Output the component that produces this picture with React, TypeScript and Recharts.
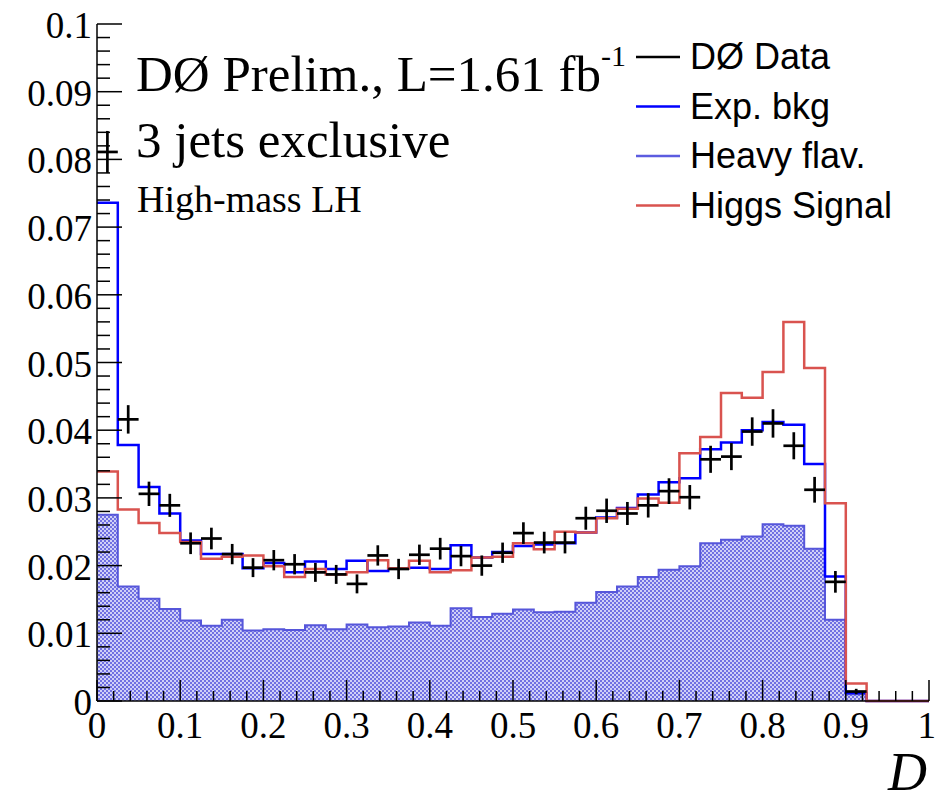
import React from 'react';
import { ComposedChart, Area, Line, Scatter, ErrorBar, XAxis, YAxis, Legend } from 'recharts';

// 40 bins of width 0.025 on D = [0, 1]
const BIN_EDGES = [
  0, 0.025, 0.05, 0.075, 0.1, 0.125, 0.15, 0.175, 0.2, 0.225,
  0.25, 0.275, 0.3, 0.325, 0.35, 0.375, 0.4, 0.425, 0.45, 0.475,
  0.5, 0.525, 0.55, 0.575, 0.6, 0.625, 0.65, 0.675, 0.7, 0.725,
  0.75, 0.775, 0.8, 0.825, 0.85, 0.875, 0.9, 0.925, 0.95, 0.975, 1,
];

const HEAVY_FLAV = [
  0.0275, 0.0169, 0.0151, 0.0136, 0.0119, 0.0111, 0.0120, 0.0104, 0.0106, 0.0105,
  0.0112, 0.0106, 0.0113, 0.0109, 0.0110, 0.0116, 0.0111, 0.0137, 0.0124, 0.0129,
  0.0135, 0.0131, 0.0132, 0.0145, 0.0161, 0.0169, 0.0183, 0.0194, 0.0199, 0.0233,
  0.0238, 0.0243, 0.0261, 0.0259, 0.0225, 0.0120, 0.0010, 0, 0, 0,
];

const EXP_BKG = [
  0.0736, 0.0378, 0.0316, 0.0277, 0.0237, 0.0217, 0.0217, 0.0196, 0.0204, 0.0190,
  0.0206, 0.0195, 0.0207, 0.0192, 0.0196, 0.0197, 0.0195, 0.0230, 0.0212, 0.0220,
  0.0229, 0.0231, 0.0233, 0.0249, 0.0271, 0.0285, 0.0305, 0.0323, 0.0329, 0.0372,
  0.0382, 0.0400, 0.0412, 0.0408, 0.0350, 0.0184, 0.0012, 0, 0, 0,
];

const HIGGS_SIGNAL = [
  0.0339, 0.0283, 0.0263, 0.0248, 0.0235, 0.0210, 0.0213, 0.0215, 0.0199, 0.0183,
  0.0195, 0.0187, 0.0190, 0.0208, 0.0196, 0.0207, 0.0190, 0.0193, 0.0212, 0.0213,
  0.0233, 0.0224, 0.0250, 0.0249, 0.0270, 0.0284, 0.0299, 0.0293, 0.0366, 0.0390,
  0.0455, 0.0448, 0.0486, 0.0560, 0.0492, 0.0292, 0.0026, 0, 0, 0,
];

const DATA_VALUES = [
  0.0811, 0.0416, 0.0306, 0.0289, 0.0233, 0.0240, 0.0217, 0.0197, 0.0208, 0.0202,
  0.0190, 0.0187, 0.0173, 0.0215, 0.0195, 0.0216, 0.0225, 0.0214, 0.0200, 0.0219,
  0.0248, 0.0234, 0.0234, 0.0270, 0.0281, 0.0277, 0.0289, 0.0310, 0.0301, 0.0357,
  0.0361, 0.0398, 0.0410, 0.0377, 0.0312, 0.0176, 0.0014,
];

const DATA_ERRORS = [
  0.0031, 0.0021, 0.0018, 0.0017, 0.0016, 0.0016, 0.0015, 0.0014, 0.0015, 0.0015,
  0.0014, 0.0014, 0.0014, 0.0015, 0.0015, 0.0015, 0.0016, 0.0015, 0.0015, 0.0015,
  0.0016, 0.0016, 0.0016, 0.0017, 0.0018, 0.0017, 0.0018, 0.0019, 0.0018, 0.0020,
  0.0020, 0.0021, 0.0021, 0.0020, 0.0019, 0.0016, 0.0004,
];

const X_LABELS = [0, 0.1, 0.2, 0.3, 0.4, 0.5, 0.6, 0.7, 0.8, 0.9, 1];
const Y_LABELS = [0, 0.01, 0.02, 0.03, 0.04, 0.05, 0.06, 0.07, 0.08, 0.09, 0.1];

const LEGEND_ITEMS = [
  { label: 'DØ Data', color: '#000000' },
  { label: 'Exp. bkg', color: '#0000ff' },
  { label: 'Heavy flav.', color: '#5c5ce0' },
  { label: 'Higgs Signal', color: '#d9534f' },
];

const SERIF = '"Liberation Serif", "Times New Roman", serif';
const SANS = '"Liberation Sans", Arial, Helvetica, sans-serif';

// histogram rows on bin edges, last edge repeats the last bin for stepAfter
const histRows = BIN_EDGES.map((x, i) => {
  const k = Math.min(i, HEAVY_FLAV.length - 1);
  return { x, heavy: HEAVY_FLAV[k], bkg: EXP_BKG[k], sig: HIGGS_SIGNAL[k] };
});

const dataPoints = DATA_VALUES.map((y, i) => ({
  x: (BIN_EDGES[i] + BIN_EDGES[i + 1]) / 2,
  y,
  err: DATA_ERRORS[i],
  xerr: (BIN_EDGES[i + 1] - BIN_EDGES[i]) / 2,
}));

// 5 minor divisions per labelled step
const X_TICKS = Array.from({ length: 51 }, (_, i) => i / 50);
const Y_TICKS = Array.from({ length: 51 }, (_, i) => i / 500);

const onStep = (v: number, step: number) => Math.abs(v / step - Math.round(v / step)) < 1e-6;
const fmt = (v: number) => String(Number(v.toFixed(3)));

const BottomTick = (props: any) => {
  const { x, y, payload } = props;
  const major = onStep(payload.value, 0.1);
  const last = Math.abs(payload.value - 1) < 1e-6;
  return (
    <g>
      <line x1={x} x2={x} y1={y} y2={y - (major ? 21 : 10)} stroke="#000" strokeWidth={1.5} />
      {major && X_LABELS.some((l) => Math.abs(l - payload.value) < 1e-6) ? (
        <text
          x={last ? x + 7 : x}
          y={y + 37}
          textAnchor={last ? 'end' : 'middle'}
          fontFamily={SERIF}
          fontSize={37}
          fill="#000"
        >
          {fmt(payload.value)}
        </text>
      ) : null}
    </g>
  );
};

const TopTick = (props: any) => {
  const { x, y, payload } = props;
  const major = onStep(payload.value, 0.1);
  return <line x1={x} x2={x} y1={y} y2={y + (major ? 21 : 10)} stroke="#000" strokeWidth={1.5} />;
};

const LeftTick = (props: any) => {
  const { x, y, payload } = props;
  const major = onStep(payload.value, 0.01);
  return (
    <g>
      <line x1={x} x2={x + (major ? 25 : 13)} y1={y} y2={y} stroke="#000" strokeWidth={1.5} />
      {major && Y_LABELS.some((l) => Math.abs(l - payload.value) < 1e-6) ? (
        <text x={x - 5} y={y + 14} textAnchor="end" fontFamily={SERIF} fontSize={37} fill="#000">
          {fmt(payload.value)}
        </text>
      ) : null}
    </g>
  );
};

const RightTick = (props: any) => {
  const { x, y, payload } = props;
  const major = onStep(payload.value, 0.01);
  return <line x1={x} x2={x - (major ? 25 : 13)} y1={y} y2={y} stroke="#000" strokeWidth={1.5} />;
};

const renderLegend = () => (
  <svg width={310} height={200} style={{ overflow: 'visible' }}>
    {LEGEND_ITEMS.map((item, i) => {
      const cy = 27 + i * 49.5;
      return (
        <g key={item.label}>
          <line x1={16} x2={60} y1={cy} y2={cy} stroke={item.color} strokeWidth={2.5} />
          <text x={70} y={cy + 12} fontFamily={SANS} fontSize={36} fill="#000">
            {item.label}
          </text>
        </g>
      );
    })}
  </svg>
);

const AxisTitle = (props: any) => {
  const { viewBox } = props;
  return (
    <text
      x={viewBox.x + viewBox.width - 2}
      y={viewBox.y + 89}
      textAnchor="end"
      fontFamily={SERIF}
      fontStyle="italic"
      fontSize={54}
      fill="#000"
    >
      D
    </text>
  );
};

const noMarker = () => <g />;

export default function App() {
  return (
    <div style={{ position: 'absolute', left: 0, top: 0, width: 936, height: 801, background: '#fff' }}>
      <ComposedChart
        width={936}
        height={801}
        data={histRows}
        margin={{ top: 24, right: 7, bottom: 0, left: 0 }}
      >
        <defs>
          <pattern id="hfHatch" width="4" height="4" patternUnits="userSpaceOnUse">
            <rect width="4" height="4" fill="#d0d0f7" />
            <rect width="2" height="2" fill="#7070e2" />
            <rect x="2" y="2" width="2" height="2" fill="#7070e2" />
          </pattern>
        </defs>

        <XAxis
          dataKey="x"
          type="number"
          domain={[0, 1]}
          ticks={X_TICKS}
          interval={0}
          height={100}
          tickSize={0}
          tickMargin={0}
          tickLine={false}
          axisLine={{ stroke: '#000', strokeWidth: 1.5 }}
          tick={BottomTick}
          label={<AxisTitle />}
        />
        <XAxis
          xAxisId="top"
          orientation="top"
          dataKey="x"
          type="number"
          domain={[0, 1]}
          ticks={X_TICKS}
          interval={0}
          height={0}
          tickSize={0}
          tickMargin={0}
          tickLine={false}
          axisLine={{ stroke: '#000', strokeWidth: 1.5 }}
          tick={TopTick}
        />
        <YAxis
          type="number"
          domain={[0, 0.1]}
          ticks={Y_TICKS}
          interval={0}
          width={97}
          tickSize={0}
          tickMargin={0}
          tickLine={false}
          axisLine={{ stroke: '#000', strokeWidth: 1.5 }}
          tick={LeftTick}
        />
        <YAxis
          yAxisId="right"
          orientation="right"
          type="number"
          domain={[0, 0.1]}
          ticks={Y_TICKS}
          interval={0}
          width={0}
          tickSize={0}
          tickMargin={0}
          tickLine={false}
          axisLine={{ stroke: '#000', strokeWidth: 1.5 }}
          tick={RightTick}
        />

        <Area
          type="stepAfter"
          dataKey="heavy"
          name="Heavy flav."
          stroke="#5656da"
          strokeWidth={2}
          fill="url(#hfHatch)"
          fillOpacity={1}
          dot={false}
          activeDot={false}
          isAnimationActive={false}
        />
        <Line
          type="stepAfter"
          dataKey="bkg"
          name="Exp. bkg"
          stroke="#0000ff"
          strokeWidth={2.5}
          dot={false}
          activeDot={false}
          isAnimationActive={false}
        />
        <Line
          type="stepAfter"
          dataKey="sig"
          name="Higgs Signal"
          stroke="#d9534f"
          strokeWidth={2.5}
          dot={false}
          activeDot={false}
          isAnimationActive={false}
        />
        <Scatter
          data={dataPoints}
          dataKey="y"
          name="DØ Data"
          shape={noMarker}
          isAnimationActive={false}
        >
          <ErrorBar dataKey="err" direction="y" width={0} stroke="#000" strokeWidth={2.7} isAnimationActive={false} />
          <ErrorBar dataKey="xerr" direction="x" width={0} stroke="#000" strokeWidth={2.7} isAnimationActive={false} />
        </Scatter>

        <Legend
          layout="horizontal"
          verticalAlign="middle"
          align="center"
          width={310}
          height={200}
          wrapperStyle={{ left: 620, top: 30 }}
          content={renderLegend}
        />
      </ComposedChart>

      <svg
        width={936}
        height={801}
        style={{ position: 'absolute', left: 0, top: 0, pointerEvents: 'none' }}
      >
        <text x={136} y={91} fontFamily={SERIF} fontSize={51} fill="#000">
          DØ Prelim., L=1.61 fb
          <tspan fontSize={30} dy={-25}>-1</tspan>
        </text>
        <text x={136} y={157} fontFamily={SERIF} fontSize={51} fill="#000">
          3 jets exclusive
        </text>
        <text x={137} y={212} fontFamily={SERIF} fontSize={38} fill="#000">
          High-mass LH
        </text>
      </svg>
    </div>
  );
}
